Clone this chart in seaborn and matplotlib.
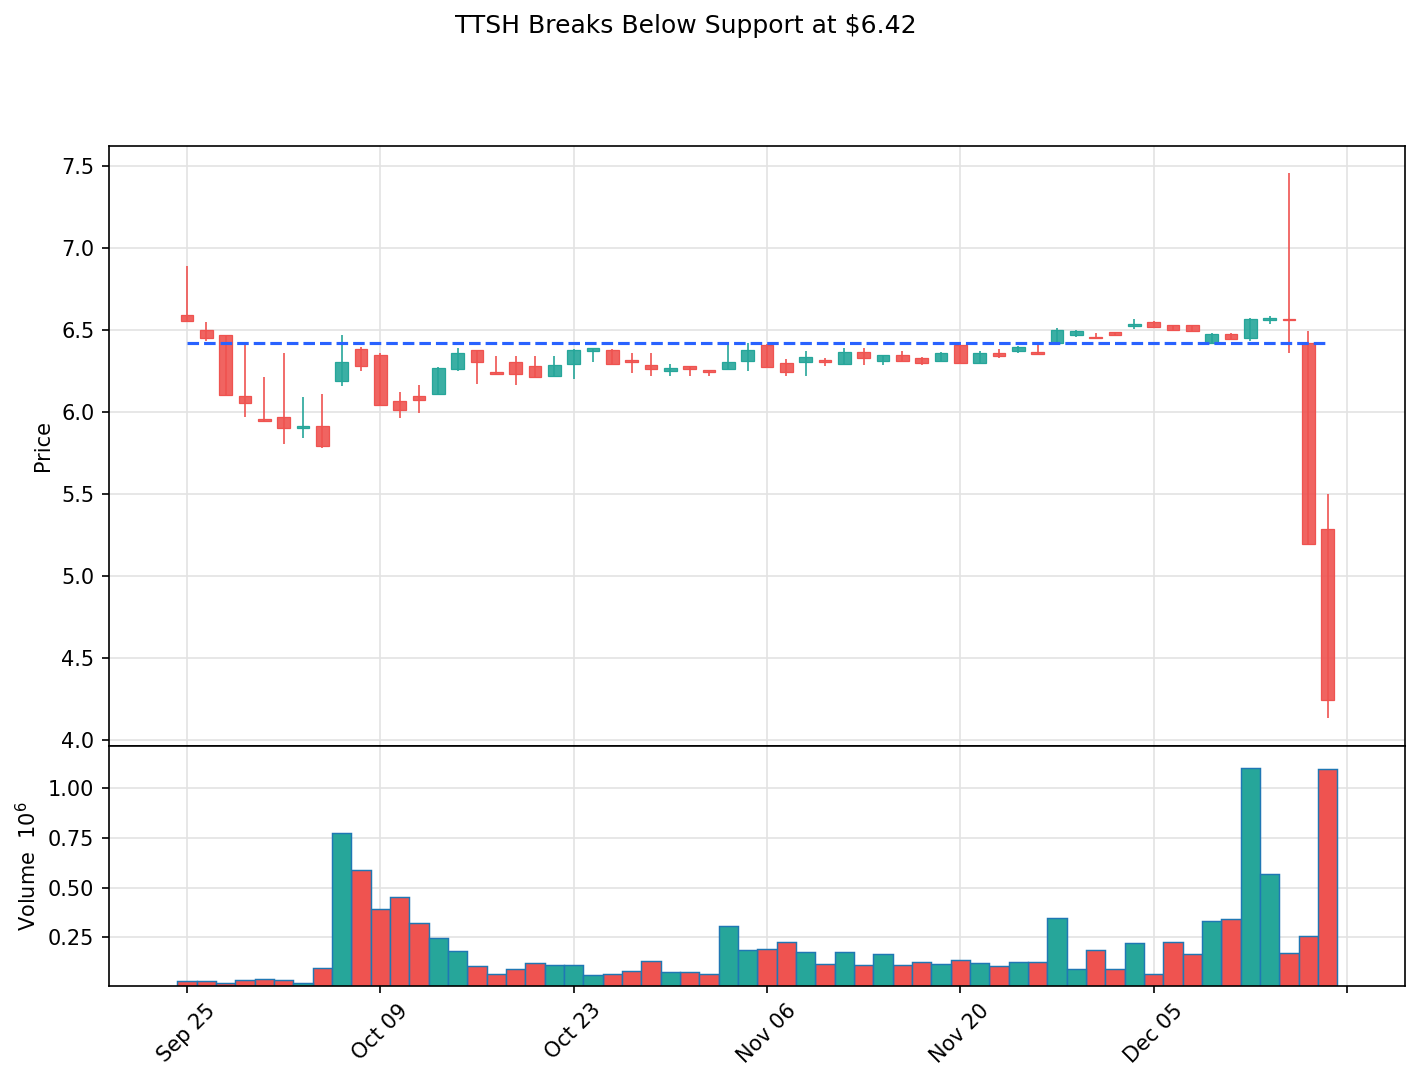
import numpy as np
import pandas as pd
import matplotlib
matplotlib.use("Agg")
import matplotlib.pyplot as plt
import seaborn as sns
from matplotlib.colors import to_rgba
from matplotlib.ticker import FormatStrFormatter

# ---------------- data ----------------
title = "TTSH Breaks Below Support at $6.42"
support = 6.42
dates = pd.bdate_range("2023-09-25", "2023-12-18").drop(pd.Timestamp("2023-11-23"))

opens = [6.59, 6.50, 6.465, 6.095, 5.955, 5.967, 5.90, 5.913, 6.19, 6.385,
         6.345, 6.063, 6.095, 6.11, 6.26, 6.375, 6.245, 6.30, 6.28, 6.22,
         6.29, 6.37, 6.375, 6.315, 6.285, 6.25, 6.278, 6.254, 6.26, 6.31,
         6.405, 6.297, 6.30, 6.315, 6.29, 6.364, 6.309, 6.346, 6.327, 6.309,
         6.405, 6.297, 6.358, 6.37, 6.364, 6.42, 6.468, 6.455, 6.486, 6.525,
         6.547, 6.529, 6.529, 6.42, 6.474, 6.45, 6.56, 6.567, 6.42, 5.283]
highs = [6.886, 6.545, 6.465, 6.41, 6.21, 6.36, 6.09, 6.11, 6.47, 6.394,
         6.36, 6.12, 6.165, 6.272, 6.39, 6.375, 6.34, 6.34, 6.34, 6.34,
         6.385, 6.39, 6.38, 6.355, 6.355, 6.29, 6.28, 6.255, 6.42, 6.42,
         6.41, 6.32, 6.37, 6.327, 6.39, 6.39, 6.346, 6.37, 6.333, 6.364,
         6.41, 6.37, 6.382, 6.40, 6.42, 6.51, 6.495, 6.48, 6.486, 6.567,
         6.55, 6.53, 6.53, 6.48, 6.48, 6.573, 6.585, 7.455, 6.494, 5.50]
lows = [6.55, 6.43, 6.093, 5.97, 5.94, 5.80, 5.84, 5.78, 6.155, 6.25,
        6.035, 5.96, 5.99, 6.11, 6.25, 6.17, 6.23, 6.16, 6.21, 6.218,
        6.20, 6.30, 6.29, 6.235, 6.215, 6.22, 6.215, 6.22, 6.255, 6.25,
        6.27, 6.215, 6.215, 6.28, 6.285, 6.285, 6.285, 6.30, 6.285, 6.303,
        6.297, 6.297, 6.327, 6.358, 6.352, 6.405, 6.455, 6.447, 6.468, 6.504,
        6.516, 6.50, 6.49, 6.42, 6.443, 6.43, 6.535, 6.36, 5.193, 4.13]
closes = [6.555, 6.45, 6.104, 6.05, 5.945, 5.90, 5.91, 5.79, 6.30, 6.28,
          6.04, 6.01, 6.07, 6.265, 6.355, 6.30, 6.23, 6.23, 6.21, 6.285,
          6.375, 6.388, 6.29, 6.30, 6.26, 6.265, 6.26, 6.243, 6.30, 6.375,
          6.272, 6.242, 6.333, 6.30, 6.364, 6.327, 6.346, 6.309, 6.297, 6.358,
          6.297, 6.358, 6.34, 6.394, 6.352, 6.50, 6.492, 6.447, 6.47, 6.535,
          6.516, 6.50, 6.49, 6.474, 6.443, 6.565, 6.571, 6.558, 5.195, 4.24]
volume_m = [0.027, 0.027, 0.020, 0.032, 0.038, 0.032, 0.017, 0.092, 0.773, 0.591,
            0.390, 0.450, 0.319, 0.248, 0.178, 0.102, 0.062, 0.087, 0.122, 0.112,
            0.112, 0.057, 0.062, 0.079, 0.132, 0.072, 0.072, 0.062, 0.304, 0.183,
            0.188, 0.228, 0.173, 0.117, 0.173, 0.107, 0.163, 0.107, 0.127, 0.117,
            0.137, 0.122, 0.102, 0.127, 0.127, 0.349, 0.087, 0.183, 0.087, 0.218,
            0.065, 0.223, 0.163, 0.329, 0.344, 1.105, 0.566, 0.168, 0.254, 1.100]
tick_positions = [0, 10, 20, 30, 40, 50, 60]

UP = "#26a69a"
DOWN = "#ef5350"

# ---------------- style ----------------
sns.set_style("ticks", rc={
    "axes.edgecolor": "black", "axes.labelcolor": "black", "text.color": "black",
    "xtick.color": "black", "ytick.color": "black",
    "axes.grid": True, "grid.color": "#e3e3e3", "grid.linestyle": "-",
})
plt.rcParams["font.family"] = ["DejaVu Sans"]
plt.rcParams["font.size"] = 10
plt.rcParams["xtick.labelsize"] = 10
plt.rcParams["ytick.labelsize"] = 10
plt.rcParams["axes.labelsize"] = 10
plt.rcParams["grid.linewidth"] = 0.8
plt.rcParams["axes.linewidth"] = 0.8

fig = plt.figure(figsize=(1420 / 150, 1082 / 150), dpi=150)
L, R = 0.0768, 0.9894
axp = fig.add_axes([L, 0.3108, R - L, 0.8653 - 0.3108])
axv = fig.add_axes([L, 0.0890, R - L, 0.3108 - 0.0890], sharex=axp)

n = len(opens)
x = np.arange(n)
o = np.array(opens); h = np.array(highs); lo = np.array(lows); c = np.array(closes)
up = c >= o
cols = [UP if u else DOWN for u in up]

# candles
axp.vlines(x, lo, h, colors=cols, linewidth=0.8, zorder=2)
axp.bar(x, np.abs(c - o), bottom=np.minimum(o, c), width=0.65,
        color=[to_rgba(cc, 0.9) for cc in cols], edgecolor=cols, linewidth=0.6, zorder=3)
axp.hlines(support, x[0], x[-1], colors="#2962ff", linestyles="--", linewidth=1.5, zorder=4)

rng = h.max() - lo.min()
axp.set_ylim(lo.min() - 0.05 * rng, h.max() + 0.05 * rng)
axp.set_yticks(np.arange(4.0, 7.51, 0.5))
axp.yaxis.set_major_formatter(FormatStrFormatter("%.1f"))
axp.set_ylabel("Price")
axp.tick_params(axis="x", length=0, labelbottom=False)

# volume
df = pd.DataFrame({"pos": x, "vol": volume_m, "dir": ["up" if u else "down" for u in up]})
sns.barplot(data=df, x="pos", y="vol", hue="dir", palette={"up": UP, "down": DOWN},
            dodge=False, width=1.0, saturation=1, edgecolor="#1f77b4", linewidth=0.7,
            errorbar=None, legend=False, native_scale=True, ax=axv)
vol = np.array(volume_m)
axv.set_ylim(0.3 * vol.min(), 1.1 * vol.max())
axv.set_yticks([0.25, 0.50, 0.75, 1.00])
axv.yaxis.set_major_formatter(FormatStrFormatter("%.2f"))
axv.set_ylabel("Volume  $10^6$")
axv.set_xlabel("")
labels = [dates[i].strftime("%b %d") if i < n else "" for i in tick_positions]
axv.set_xticks(tick_positions)
axv.set_xticklabels(labels, rotation=45)
axv.xaxis.grid(True)
axv.yaxis.grid(True)
axv.set_xlim(-4.03, 63.0)

fig.text(0.4827, 1 - 33.3 / 1082, title, ha="center", va="baseline", fontsize=12)

fig.savefig("out.png", dpi=150)
